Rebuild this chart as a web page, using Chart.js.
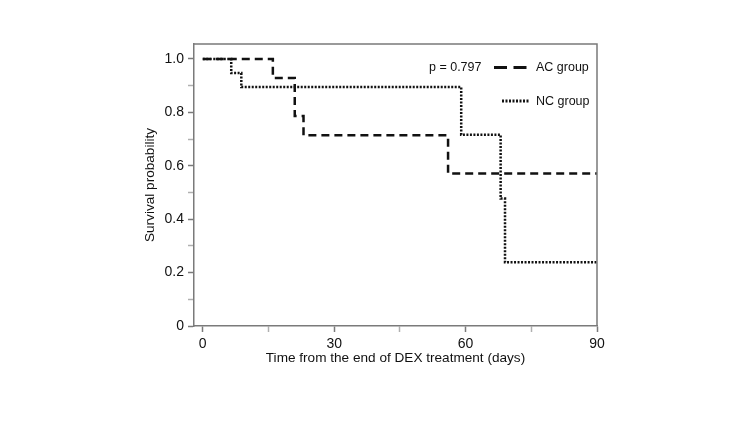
<!DOCTYPE html>
<html><head><meta charset="utf-8">
<script src="https://cdn.jsdelivr.net/npm/chart.js@4"></script>
<style>html,body{margin:0;padding:0;background:#fff}#wrap{width:750px;height:422px}</style>
</head><body><div id="wrap"><canvas id="c"></canvas></div>
<script>
const acTimes = [0, 16, 21, 23, 56, 90];
const acSurv  = [1.0, 0.929, 0.786, 0.714, 0.571, 0.571];
const ncTimes = [0, 6.5, 8.8, 59, 68, 69, 90];
const ncSurv  = [1.0, 0.947, 0.895, 0.716, 0.477, 0.239, 0.239];
const xTicks = [0, 15, 30, 45, 60, 75, 90];
const xLabels = {0:'0', 30:'30', 60:'60', 90:'90'};
const yTicks = [0, 0.1, 0.2, 0.3, 0.4, 0.5, 0.6, 0.7, 0.8, 0.9, 1.0];
const yLabels = {0:'0', 0.2:'0.2', 0.4:'0.4', 0.6:'0.6', 0.8:'0.8', 1:'1.0'};
const pText = 'p = 0.797';
const seriesNames = ['AC group', 'NC group'];

const FONT = '"Liberation Sans", Arial, sans-serif';
const AXIS = '#7a7a7a';

// Kaplan-Meier step: value holds from each time until the next
const toPts = (t, s) => {
  const pts = [];
  t.forEach((v, i) => {
    if (i > 0) pts.push({x: v, y: s[i - 1]});
    pts.push({x: v, y: s[i]});
  });
  return pts;
};
const isMajorX = v => Object.prototype.hasOwnProperty.call(xLabels, v);
const yKey = v => Math.round(v * 10) / 10;
const isMajorY = v => Math.round(v * 10) % 2 === 0;

const frame = {
  id: 'frame',
  afterDraw(chart) {
    const {ctx, chartArea: a} = chart;
    ctx.save();
    ctx.strokeStyle = AXIS; ctx.lineWidth = 1.5;
    ctx.beginPath();
    ctx.moveTo(a.left, a.top); ctx.lineTo(a.right, a.top); ctx.lineTo(a.right, a.bottom);
    ctx.stroke();
    // legend
    ctx.fillStyle = '#111';
    ctx.font = '12.5px ' + FONT;
    ctx.textBaseline = 'middle';
    ctx.textAlign = 'left';
    ctx.fillText(pText, 429, 68);
    ctx.strokeStyle = '#111'; ctx.lineWidth = 2.8;
    ctx.setLineDash([13, 6.5]);
    ctx.beginPath(); ctx.moveTo(494, 67.5); ctx.lineTo(527, 67.5); ctx.stroke();
    ctx.setLineDash([2, 1.5]);
    ctx.beginPath(); ctx.moveTo(502, 101); ctx.lineTo(530, 101); ctx.stroke();
    ctx.setLineDash([]);
    ctx.fillText(seriesNames[0], 536, 68);
    ctx.fillText(seriesNames[1], 536, 101.5);
    ctx.restore();
  }
};

new Chart(document.getElementById('c'), {
  type: 'line',
  data: {
    datasets: [
      {label: seriesNames[0], data: toPts(acTimes, acSurv), borderColor: '#111', borderWidth: 2.5, borderDash: [8, 5], pointRadius: 0, fill: false, tension: 0},
      {label: seriesNames[1], data: toPts(ncTimes, ncSurv), borderColor: '#111', borderWidth: 2.5, borderDash: [2, 1.5], pointRadius: 0, fill: false, tension: 0}
    ]
  },
  options: {
    responsive: true, maintainAspectRatio: false, animation: false,
    layout: {padding: {left: 130, right: 153, top: 44, bottom: 56}},
    plugins: {legend: {display: false}, tooltip: {enabled: false}},
    scales: {
      x: {
        type: 'linear', min: -2, max: 90,
        afterBuildTicks: s => { s.ticks = xTicks.map(v => ({value: v})); },
        afterFit: s => { s.height = 40; },
        grid: {drawOnChartArea: false, drawTicks: true, tickLength: 6,
               tickColor: c => (c.tick && isMajorX(c.tick.value)) ? AXIS : '#b0b0b0', tickWidth: 1.5},
        border: {color: AXIS, width: 1.5},
        ticks: {color: '#111', font: {family: FONT, size: 14}, padding: 4, maxRotation: 0, autoSkip: false,
                callback: v => isMajorX(v) ? xLabels[v] : ''},
        title: {display: true, text: 'Time from the end of DEX treatment (days)', color: '#111',
                font: {family: FONT, size: 13.6}, padding: {top: -1, bottom: 0}}
      },
      y: {
        type: 'linear', min: 0, max: 1.056,
        afterBuildTicks: s => { s.ticks = yTicks.map(v => ({value: v})); },
        afterFit: s => { s.width = 64; },
        grid: {drawOnChartArea: false, drawTicks: true, tickLength: 6,
               tickColor: c => (c.tick && isMajorY(c.tick.value)) ? AXIS : '#b0b0b0', tickWidth: 1.5},
        border: {color: AXIS, width: 1.5},
        ticks: {color: '#111', font: {family: FONT, size: 14}, padding: 4, autoSkip: false,
                callback: v => isMajorY(v) ? yLabels[yKey(v)] : ''},
        title: {display: true, text: 'Survival probability', color: '#111',
                font: {family: FONT, size: 13.6}, padding: {top: 12, bottom: 0}}
      }
    }
  },
  plugins: [frame]
});
</script></body></html>
